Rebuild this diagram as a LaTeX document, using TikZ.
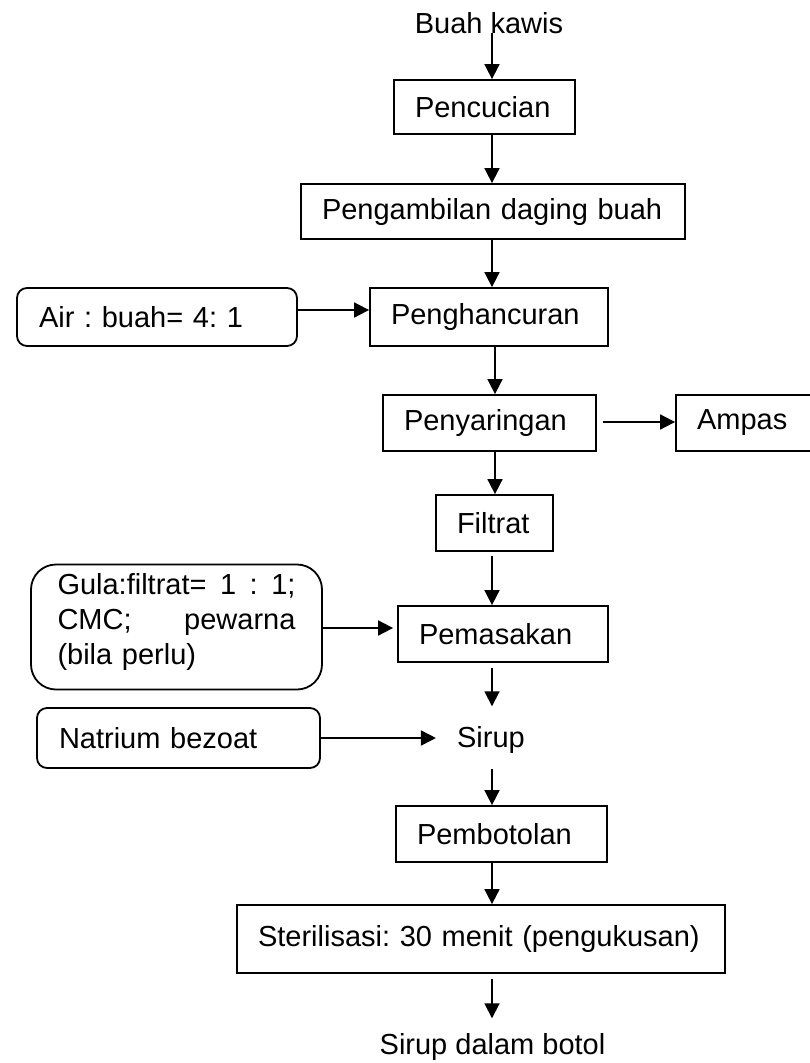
\documentclass[tikz,border=0pt]{standalone}
\usepackage{fontspec}
\setmainfont{Liberation Sans}
\usetikzlibrary{arrows.meta}
\frenchspacing

\begin{document}
\begin{tikzpicture}[x=1pt,y=-1pt,
    every node/.style={font=\fontsize{29}{35}\selectfont},
    kotak/.style={draw,line width=1.8pt,inner xsep=21pt,inner ysep=0pt,align=left,minimum height=56pt},
    bahan/.style={kotak,inner xsep=22pt,rounded corners=10pt},
    teks/.style={inner xsep=21pt,inner ysep=15pt},
    panah/.style={line width=1.8pt,-{Triangle[length=15pt,width=15pt]}}]
\useasboundingbox (0,0) rectangle (810,1063);
\coordinate (ax) at (492,0);
\coordinate (bx) at (495,0);

\node[teks] (buah) at (489,23) {Buah kawis};
\node[kotak,text width=139pt,minimum height=54pt] (pencucian) at (484.5,107) {Pencucian};
\node[kotak,text width=342pt,minimum height=55pt] (pengambilan) at (493,211.5) {Pengambilan daging buah};
\node[bahan,text width=236pt,minimum height=58pt] (air) at (157,317) {Air : buah= 4: 1};
\node[kotak,text width=196pt,minimum height=58pt] (penghancuran) at (489,317) {Penghancuran};
\node[kotak,text width=171pt] (penyaringan) at (489.5,423) {Penyaringan};
\node[kotak,text width=94pt] (ampas) at (744,423) {Ampas};
\node[kotak,text width=75pt] (filtrat) at (494.5,523) {Filtrat};
\node[draw,line width=1.8pt,rounded corners=25pt,minimum width=291pt,minimum height=125pt] (gula) at (176.5,627) {};
\node[inner sep=0pt,text width=238pt,align=left] (gulateks) at (176.5,622)
    {\makebox[238pt]{Gula:filtrat=\hfill 1\hfill :\hfill 1;}\\ \makebox[238pt]{CMC;\hfill pewarna}\\ (bila perlu)};
\node[kotak,text width=168pt] (pemasakan) at (503,634) {Pemasakan};
\node[bahan,text width=239pt,minimum height=60pt] (natrium) at (178.5,738) {Natrium bezoat};
\node[teks] (sirup) at (491,740) {Sirup};
\node[kotak,text width=169pt] (pembotolan) at (501.5,834) {Pembotolan};
\node[kotak,text width=446pt,minimum height=68pt] (sterilisasi) at (481,939) {Sterilisasi: 30 menit (pengukusan)};
\node[teks] (botol) at (492.5,1047) {Sirup dalam botol};

\draw[panah] (buah.base -| ax) -- (pencucian.north -| ax);
\draw[panah] (pencucian.south -| ax) -- (pengambilan.north -| ax);
\draw[panah] (pengambilan.south -| ax) -- (penghancuran.north -| ax);
\draw[panah] ([yshift=7pt]air.east) -- ([yshift=7pt]air.east -| penghancuran.west);
\draw[panah] (penghancuran.south -| bx) -- (penyaringan.north -| bx);
\draw[panah,shorten <=6pt] ([yshift=1pt]penyaringan.east) -- ([yshift=1pt]penyaringan.east -| ampas.west);
\draw[panah] (penyaringan.south -| bx) -- (filtrat.north -| bx);
\draw[panah,shorten <=4pt] (filtrat.south -| ax) -- (pemasakan.north -| ax);
\draw[panah,shorten >=4pt] ([yshift=-1pt]gula.east) -- ([yshift=-1pt]gula.east -| pemasakan.west);
\draw[panah,shorten <=5pt,shorten >=5pt] (pemasakan.south -| ax) -- (sirup.north -| ax);
\draw[panah] (natrium.east) -- (natrium.east -| sirup.west);
\draw[panah] (sirup.south -| ax) -- (pembotolan.north -| ax);
\draw[panah] (pembotolan.south -| ax) -- (sterilisasi.north -| ax);
\draw[panah,shorten <=5pt] (sterilisasi.south -| ax) -- (botol.north -| ax);
\end{tikzpicture}
\end{document}
